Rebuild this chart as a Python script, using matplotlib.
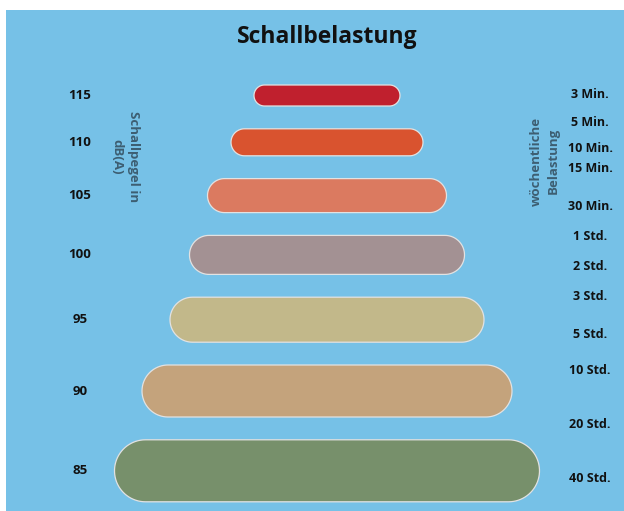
import numpy as np
import matplotlib
matplotlib.use("Agg")
import matplotlib.pyplot as plt
from matplotlib.patches import PathPatch, Rectangle
from matplotlib.path import Path

# ---- data ----
levels = ["115", "110", "105", "100", "95", "90", "85"]
bar_widths = [146, 192, 239, 275, 314, 370, 425]
bar_heights = [21, 27, 34, 39, 45, 52, 62]
bar_colors = ["#c0202e", "#d9532f", "#db7a60", "#a39193", "#c2b88a", "#c4a37c", "#77906b"]

exposure_labels = ["3 Min.", "5 Min.", "10 Min.", "15 Min.", "30 Min.", "1 Std.",
                   "2 Std.", "3 Std.", "5 Std.", "10 Std.", "20 Std.", "40 Std."]
exposure_pos = [95, 122, 149, 168, 207, 236, 267, 296, 334, 371, 425, 479]

title = "Schallbelastung"
left_axis_label = "Schallpegel in\ndB(A)"
right_axis_label = "wöchentliche\nBelastung"

# ---- style ----
BG = "#76c1e7"
FONT = ["Open Sans", "DejaVu Sans"]
plt.rcParams["font.family"] = FONT


def stadium(x0, y0, w, h, n=40):
    """geschlossener Pfad: Rechteck mit halbkreisfoermigen Enden"""
    r = h / 2
    cy = y0 + r
    t = np.linspace(-np.pi / 2, np.pi / 2, n)
    right = np.column_stack([x0 + w - r + r * np.cos(t), cy + r * np.sin(t)])
    left = np.column_stack([x0 + r - r * np.cos(t), cy - r * np.sin(t)])
    pts = np.vstack([right, left, right[:1]])
    codes = [Path.MOVETO] + [Path.LINETO] * (len(pts) - 2) + [Path.CLOSEPOLY]
    return Path(pts, codes)


W, H = 624, 511
fig = plt.figure(figsize=(W / 100, H / 100), dpi=100, facecolor="white")
ax = fig.add_axes([0, 0, 1, 1])
ax.set_xlim(0, W)
ax.set_ylim(H, 0)
ax.axis("off")

# blue panel
ax.add_patch(Rectangle((6, 10), W, H, facecolor=BG, edgecolor="none", zorder=0))

# stacked stadium bars
x_center = 327
top = 85
gap = 22.8
centers = []
for w, h, c in zip(bar_widths, bar_heights, bar_colors):
    ax.add_patch(PathPatch(stadium(x_center - w / 2, top, w, h),
                           facecolor=c, edgecolor="#e2e2e2", linewidth=0.9, zorder=2))
    centers.append(top + h / 2)
    top += h + gap

for lab, yc in zip(levels, centers):
    ax.text(80, yc, lab, ha="center", va="center", fontsize=9.5, fontweight="bold", color="#111111")

for lab, yp in zip(exposure_labels, exposure_pos):
    ax.text(590, yp, lab, ha="center", va="center", fontsize=9, fontweight="bold", color="#111111")

ax.text(125, 157, left_axis_label, rotation=-90, ha="center", va="center",
        multialignment="center", fontsize=9.5, fontweight="bold",
        color="#3d5e72", linespacing=1.35)
ax.text(545, 161, right_axis_label, rotation=90, ha="center", va="center",
        multialignment="center", fontsize=9.5, fontweight="bold",
        color="#3d5e72", linespacing=1.35)

ax.text(327, 37, title, ha="center", va="center", fontsize=16.5, fontweight="bold", color="#111111")

fig.savefig("out.png", dpi=100, facecolor="white")
